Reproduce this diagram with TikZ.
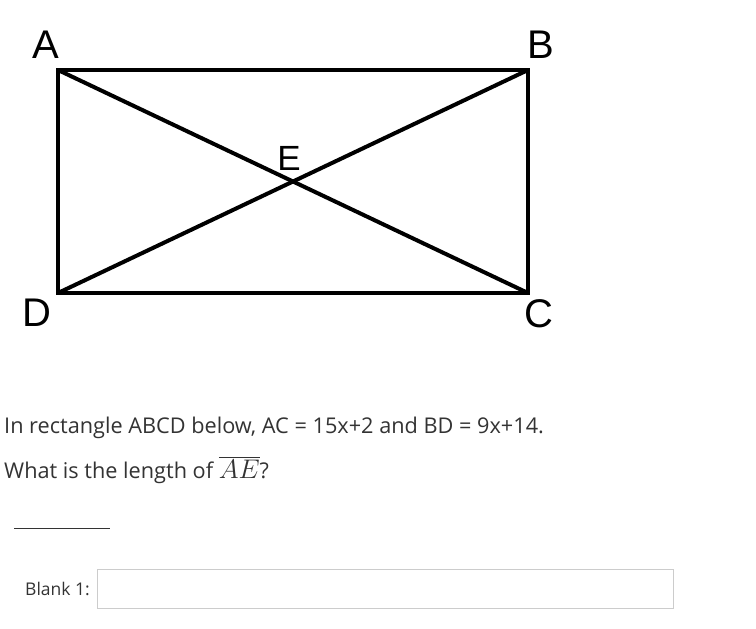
\documentclass[tikz,border=0pt]{standalone}
\usepackage{fontspec}
\setmainfont{Open Sans}
\newfontfamily\labelfont{Liberation Sans}
\usetikzlibrary{positioning,calc}
\definecolor{txtgray}{HTML}{333333}
\definecolor{boxgray}{HTML}{CCCCCC}

\begin{document}
\begin{tikzpicture}[x=1pt, y=-1pt, every node/.style={inner sep=0pt},
    corner/.style={font=\labelfont\fontsize{40}{40}\selectfont},
    side/.style={line width=4pt},
    question/.style={anchor=base west, text=txtgray, font=\fontsize{21.7}{24}\selectfont}]
    \useasboundingbox (0,0) rectangle (756,629);

    % rectangle ABCD
    \coordinate (pA) at (58,70);
    \coordinate (pB) at (528,70);
    \coordinate (pC) at (528,293);
    \coordinate (pD) at (58,293);
    \draw[side] (pA) -- (pB) -- (pC) -- (pD) -- cycle;
    \draw[side] (pA) -- (pC);
    \draw[side] (pB) -- (pD);

    \node[corner] (lA) at (46,45) {A};
    \node[corner] (lB) at (541,45) {B};
    \node[corner] (lC) at (539,314) {C};
    \node[corner] (lD) at (37,313) {D};
    \node[corner, font=\labelfont\fontsize{35}{35}\selectfont] (lE) at (289,158) {E};

    % question text
    \node[question] (q1) at (4,433) {In rectangle ABCD below, AC = 15x+2 and BD = 9x+14.};
    \node[question] (q2) at (4,478) {What is the length of \scalebox{1.3}{$\overline{AE}$}?};

    \coordinate (s1) at (14,528);
    \coordinate (s2) at (110,528);
    \draw[txtgray, line width=1pt] (s1) -- (s2);

    \node[question, font=\fontsize{17.5}{20}\selectfont] (blank) at (25,595) {Blank 1:};
    \node[draw=boxgray, line width=1pt, minimum width=576pt, minimum height=39pt, anchor=north west] (field) at (97,569) {};
\end{tikzpicture}
\end{document}
